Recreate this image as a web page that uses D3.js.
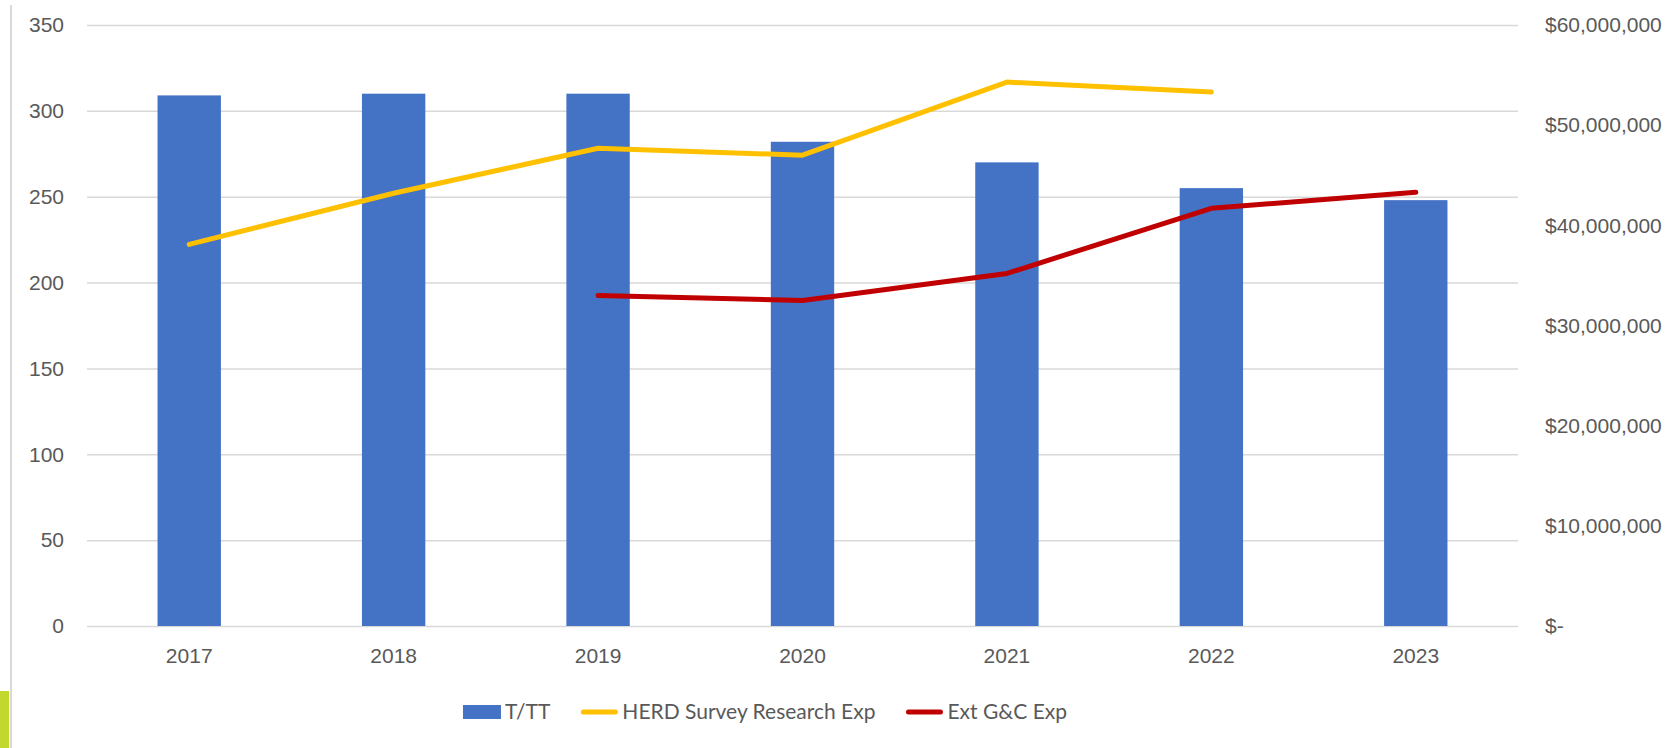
<!DOCTYPE html>
<html>
<head>
<meta charset="utf-8">
<script src="https://cdn.jsdelivr.net/npm/d3@7"></script>
<style>
  body { margin: 0; background: #fff; }
  svg { display: block; font-family: Lato, 'Open Sans', sans-serif; }
</style>
</head>
<body>
<div class="svg-container"></div>
<script>
// chart data
const years = ['2017', '2018', '2019', '2020', '2021', '2022', '2023'];
const tt = [309, 310, 310, 282, 270, 255, 248];
const herd = [38.1e6, 43.2e6, 47.7e6, 47.0e6, 54.3e6, 53.3e6, null];
const extGC = [null, null, 33.0e6, 32.5e6, 35.2e6, 41.7e6, 43.3e6];
const leftTicks = [0, 50, 100, 150, 200, 250, 300, 350];
const rightTicks = [0, 10e6, 20e6, 30e6, 40e6, 50e6, 60e6];
const seriesNames = ['T/TT', 'HERD Survey Research Exp', 'Ext G&C Exp'];

function renderChart() {
  const width = 1678;
  const height = 748;
  const plot = { left: 87, right: 1518, top: 25, bottom: 626 };
  const textColour = '#595959';
  const fontSize = 21;

  const svg = d3.select('.svg-container')
    .append('svg')
    .attr('width', width)
    .attr('height', height);

  // slide decoration on the left edge
  svg.append('line')
    .attr('x1', 11).attr('x2', 11)
    .attr('y1', 5).attr('y2', height)
    .attr('stroke', '#d9d9d9')
    .attr('stroke-width', 2);
  svg.append('rect')
    .attr('x', 0).attr('y', 691)
    .attr('width', 9).attr('height', height - 691)
    .attr('fill', '#c3d82e');

  // scales
  const x = d3.scaleBand()
    .domain(years)
    .range([plot.left, plot.right])
    .paddingInner(0.69)
    .paddingOuter(0.345);

  const y = d3.scaleLinear()
    .domain([0, 350])
    .range([plot.bottom, plot.top]);

  const y2 = d3.scaleLinear()
    .domain([0, 60e6])
    .range([plot.bottom, plot.top]);

  // gridlines + left axis
  const leftAxis = svg.append('g')
    .attr('transform', `translate(${plot.left},0)`)
    .call(d3.axisLeft(y)
      .tickValues(leftTicks)
      .tickSize(-(plot.right - plot.left))
      .tickPadding(23));
  leftAxis.select('.domain').remove();
  leftAxis.selectAll('.tick line')
    .attr('stroke', '#d9d9d9')
    .attr('stroke-width', 1.5);
  leftAxis.selectAll('.tick text')
    .attr('fill', textColour)
    .style('font-size', `${fontSize}px`);

  // right axis with accounting style labels
  const fmt = d3.format(',');
  const rightAxis = svg.append('g')
    .attr('transform', `translate(${plot.right},0)`)
    .call(d3.axisRight(y2)
      .tickValues(rightTicks)
      .tickSize(0)
      .tickPadding(27)
      .tickFormat(d => d === 0 ? '$-' : '$' + fmt(d)));
  rightAxis.select('.domain').remove();
  rightAxis.selectAll('.tick text')
    .attr('fill', textColour)
    .style('font-size', `${fontSize}px`);

  // bottom axis labels
  const bottomAxis = svg.append('g')
    .attr('transform', `translate(0,${plot.bottom})`)
    .call(d3.axisBottom(x).tickSize(0).tickPadding(22));
  bottomAxis.select('.domain').remove();
  bottomAxis.selectAll('.tick text')
    .attr('fill', textColour)
    .style('font-size', `${fontSize}px`);

  // bars
  svg.append('g')
    .selectAll('rect')
    .data(tt)
    .enter()
    .append('rect')
    .attr('x', (d, i) => x(years[i]))
    .attr('y', d => y(d))
    .attr('width', x.bandwidth())
    .attr('height', d => y(0) - y(d))
    .attr('fill', '#4472c4');

  // lines on secondary axis
  const line = d3.line()
    .defined(d => d.v !== null)
    .x(d => x(d.year) + x.bandwidth() / 2)
    .y(d => y2(d.v));

  const lines = [
    { values: herd, colour: '#ffc000' },
    { values: extGC, colour: '#c00000' }
  ];

  svg.append('g')
    .selectAll('path')
    .data(lines)
    .enter()
    .append('path')
    .attr('d', s => line(s.values.map((v, i) => ({ year: years[i], v }))))
    .attr('fill', 'none')
    .attr('stroke', s => s.colour)
    .attr('stroke-width', 5)
    .attr('stroke-linecap', 'round')
    .attr('stroke-linejoin', 'round');

  // legend - lay out from measured text widths, centred like the original
  const legendY = 712;
  const legendCentre = 765;
  const swatchW = 38;
  const textGap = 4;
  const itemGap = 30;
  const legend = svg.append('g');
  const items = [
    { name: seriesNames[0], colour: '#4472c4', type: 'box' },
    { name: seriesNames[1], colour: '#ffc000', type: 'line' },
    { name: seriesNames[2], colour: '#c00000', type: 'line' }
  ];

  const groups = items.map(item => {
    const g = legend.append('g');
    if (item.type === 'box') {
      g.append('rect')
        .attr('x', 0).attr('y', legendY - 7)
        .attr('width', swatchW).attr('height', 14)
        .attr('fill', item.colour);
    } else {
      g.append('line')
        .attr('x1', 3).attr('x2', swatchW - 3)
        .attr('y1', legendY).attr('y2', legendY)
        .attr('stroke', item.colour)
        .attr('stroke-width', 5)
        .attr('stroke-linecap', 'round');
    }
    const t = g.append('text')
      .attr('x', swatchW + textGap)
      .attr('y', legendY)
      .attr('dy', '0.35em')
      .attr('fill', textColour)
      .style('font-size', `${fontSize}px`)
      .text(item.name);
    return { g, w: swatchW + textGap + t.node().getComputedTextLength() };
  });

  const total = d3.sum(groups, d => d.w) + itemGap * (groups.length - 1);
  let cursor = legendCentre - total / 2;
  groups.forEach(d => {
    d.g.attr('transform', `translate(${cursor},0)`);
    cursor += d.w + itemGap;
  });
}

renderChart();
</script>
</body>
</html>
